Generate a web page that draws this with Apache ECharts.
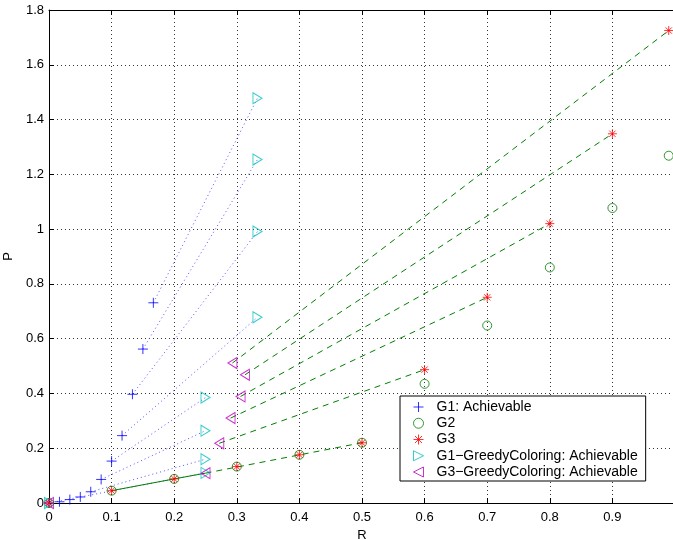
<!DOCTYPE html>
<html>
<head>
<meta charset="utf-8">
<script src="https://cdn.jsdelivr.net/npm/echarts@6/dist/echarts.min.js"></script>
<style>
  html, body { margin: 0; padding: 0; background: #fff; }
  #chart { width: 673px; height: 539px; }
</style>
</head>
<body>
<div id="chart"></div>
<script>
// G1: Achievable
const g1R = [0, 0.0167, 0.0333, 0.05, 0.0667, 0.0833, 0.1, 0.1167, 0.1333, 0.15, 0.1667];
const g1P = [0, 0.0045, 0.0125, 0.022, 0.041, 0.086, 0.153, 0.246, 0.397, 0.562, 0.731];
// G2
const g2R = [0, 0.1, 0.2, 0.3, 0.4, 0.5, 0.6, 0.7, 0.8, 0.9, 0.99];
const g2P = [0, 0.045, 0.088, 0.133, 0.176, 0.22, 0.435, 0.648, 0.86, 1.077, 1.268];
// G3
const g3R = [0, 0.1, 0.2, 0.3, 0.4, 0.5, 0.6, 0.7, 0.8, 0.9, 0.99];
const g3P = [0, 0.045, 0.088, 0.133, 0.176, 0.22, 0.487, 0.751, 1.02, 1.348, 1.725];
// G1-GreedyColoring: Achievable
const g1gR = [0, 0.25, 0.25, 0.25, 0.25, 0.333, 0.333, 0.333, 0.333];
const g1gP = [0, 0.11, 0.16, 0.264, 0.385, 0.678, 0.991, 1.254, 1.478];
// G3-GreedyColoring: Achievable
const g3gR = [0, 0.25, 0.272, 0.29, 0.306, 0.313, 0.293];
const g3gP = [0, 0.109, 0.218, 0.31, 0.389, 0.468, 0.511];

// which G1 point joins which G1-greedy point (dotted), and G3-greedy to G3 (dashed)
const g1Links = [[0, 1], [4, 2], [5, 3], [6, 4], [7, 5], [8, 6], [9, 7], [10, 8]];
const g3Links = [[1, 5], [2, 6], [3, 7], [4, 8], [5, 9], [6, 10]];

const names = ['G1: Achievable', 'G2', 'G3',
  'G1\u2212GreedyColoring: Achievable', 'G3\u2212GreedyColoring: Achievable'];
const xTicks = [0, 0.1, 0.2, 0.3, 0.4, 0.5, 0.6, 0.7, 0.8, 0.9];

const pts = (xs, ys) => xs.map((x, i) => [x, ys[i]]);
const FONT = 'Liberation Sans, Arial, sans-serif';
const PLUS = 'path://M5,0L5,10M0,5L10,5';
const STAR = 'path://M5,0L5,10M0,5L10,5M1.5,1.5L8.5,8.5M1.5,8.5L8.5,1.5';
const TRI_R = 'path://M0,0L10,5L0,10Z';
const TRI_L = 'path://M10,0L0,5L10,10Z';
const hollow = c => ({ color: 'rgba(0,0,0,0)', borderColor: c, borderWidth: 1 });

const series = [];
g1Links.forEach(([a, b]) => series.push({
  type: 'line', silent: true, showSymbol: false, z: 1,
  data: [[g1R[a], g1P[a]], [g1gR[b], g1gP[b]]],
  lineStyle: { color: '#5555ff', width: 1, type: [1, 3] }
}));
g3Links.forEach(([a, b]) => series.push({
  type: 'line', silent: true, showSymbol: false, z: 1,
  data: [[g3gR[a], g3gP[a]], [g3R[b], g3P[b]]],
  lineStyle: { color: '#008000', width: 1, type: [6, 5] }
}));
// short solid-looking green piece along the common G2/G3 points
series.push({
  type: 'line', silent: true, showSymbol: false, z: 1,
  data: [[g3R[1], g3P[1]], [g3R[2], g3P[2]], [g3gR[1], g3gP[1]]],
  lineStyle: { color: '#008000', width: 1 }
});

series.push(
  { name: names[0], type: 'scatter', symbol: PLUS, symbolSize: 10, z: 3,
    data: pts(g1R, g1P), itemStyle: hollow('#0000ff') },
  { name: names[1], type: 'scatter', symbol: 'circle', symbolSize: 9, z: 3,
    data: pts(g2R, g2P), itemStyle: hollow('#008000') },
  { name: names[2], type: 'scatter', symbol: STAR, symbolSize: 9, z: 4,
    data: pts(g3R, g3P), itemStyle: hollow('#ff0000') },
  { name: names[3], type: 'scatter', symbol: TRI_R, symbolSize: [9, 11], z: 3,
    data: pts(g1gR, g1gP), itemStyle: hollow('#00bfbf') },
  { name: names[4], type: 'scatter', symbol: TRI_L, symbolSize: [9, 11], z: 3,
    data: pts(g3gR, g3gP), itemStyle: hollow('#bf00bf') }
);

const chart = echarts.init(document.getElementById('chart'));
chart.setOption({
  animation: false,
  backgroundColor: '#fff',
  grid: { left: 49, right: -2, top: 10, bottom: 36, outerBoundsMode: 'none', containLabel: false },
  legend: {
    data: names,
    orient: 'vertical',
    left: 400, top: 396,
    backgroundColor: '#fff',
    borderColor: '#000', borderWidth: 1,
    padding: [4, 8, 2, 13],
    itemWidth: 10, itemHeight: 10, itemGap: 2.25,
    itemStyle: { borderWidth: 1 },
    textStyle: { fontFamily: FONT, fontSize: 14, color: '#000', lineHeight: 14, padding: [0, 0, 0, 8] }
  },
  xAxis: [{
    type: 'value', min: 0, max: 1, interval: 0.1,
    name: 'R', nameLocation: 'middle', nameGap: 20,
    nameTextStyle: { fontFamily: FONT, fontSize: 13, color: '#000' },
    axisLine: { lineStyle: { color: '#000', width: 1 } },
    axisTick: { inside: true, length: 5, lineStyle: { color: '#000' } },
    axisLabel: { fontFamily: FONT, fontSize: 13, color: '#000', margin: 8,
      formatter: v => xTicks.includes(Math.round(v * 10) / 10) && v < 0.95 ? String(Math.round(v * 10) / 10) : '' },
    splitLine: { show: true, lineStyle: { color: '#333', type: [1, 3] } }
  }, {
    type: 'value', position: 'top', min: 0, max: 1, interval: 0.1,
    axisLine: { show: true, lineStyle: { color: '#000', width: 1 } },
    axisTick: { show: true, inside: true, length: 5, lineStyle: { color: '#000' } },
    axisLabel: { show: false }, splitLine: { show: false }
  }],
  yAxis: {
    type: 'value', min: 0, max: 1.8, interval: 0.2,
    name: 'P', nameLocation: 'middle', nameGap: 27,
    nameTextStyle: { fontFamily: FONT, fontSize: 13, color: '#000' },
    axisLine: { show: true, lineStyle: { color: '#000', width: 1 } },
    axisTick: { show: true, inside: true, length: 5, lineStyle: { color: '#000' } },
    axisLabel: { fontFamily: FONT, fontSize: 13, color: '#000', margin: 5,
      formatter: v => String(Math.round(v * 10) / 10) },
    splitLine: { show: true, lineStyle: { color: '#333', type: [1, 3] } }
  },
  series: series
});
</script>
</body>
</html>
